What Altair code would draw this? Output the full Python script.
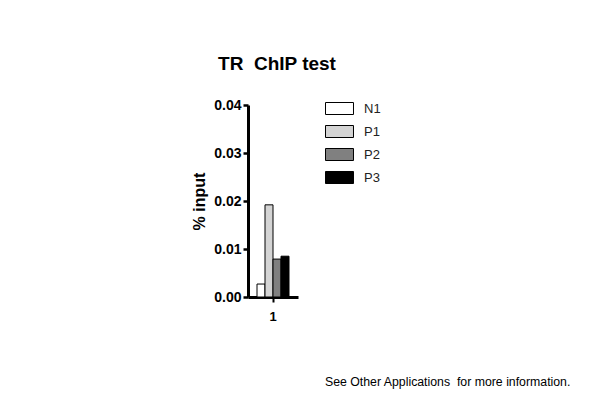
import altair as alt
import pandas as pd

groups = ["1", "1", "1", "1"]
series = ["N1", "P1", "P2", "P3"]
values = [0.0027, 0.0192, 0.0079, 0.0085]
colors = ["#ffffff", "#d4d4d4", "#808080", "#000000"]
y_ticks = [0.0, 0.01, 0.02, 0.03, 0.04]
title_text = "TR \u00a0ChIP test"
y_title = "% input"
footer = ["See Other Applications \u00a0for more information."]

FONT = "Liberation Sans, Arial, Helvetica, sans-serif"

df = pd.DataFrame({"group": groups, "series": series, "value": values})

bars = alt.Chart(df).mark_bar(stroke="black", strokeWidth=1).encode(
    x=alt.X(
        "group:N",
        scale=alt.Scale(paddingInner=0, paddingOuter=0.28125),
        axis=alt.Axis(
            title=None, labelAngle=0, domainWidth=3, domainColor="black",
            tickWidth=2, tickSize=5, tickColor="black",
            labelFont=FONT, labelFontSize=13, labelFontWeight="bold",
            labelColor="black", labelPadding=8,
        ),
    ),
    xOffset=alt.XOffset("series:N", scale=alt.Scale(domain=series, paddingInner=0, paddingOuter=0)),
    y=alt.Y(
        "value:Q",
        scale=alt.Scale(domain=[0, 0.04], nice=False),
        axis=alt.Axis(
            title=y_title, values=y_ticks, format=".2f", grid=False,
            domainWidth=3, domainColor="black", tickWidth=2.5, tickSize=5,
            tickColor="black", labelFont=FONT, labelFontSize=14,
            labelFontWeight="bold", labelColor="black", labelPadding=2,
            titleFont=FONT, titleFontSize=16, titleFontWeight="bold",
            titleColor="black", titlePadding=6,
        ),
    ),
    color=alt.Color(
        "series:N",
        scale=alt.Scale(domain=series, range=colors),
        legend=alt.Legend(
            title=None, orient="none", legendX=85, legendY=-3,
            symbolType="M-2.333,-1H2.333V1H-2.333Z", symbolSize=144,
            symbolStrokeColor="black", symbolStrokeWidth=1,
            labelFont=FONT, labelFontSize=13, labelColor="#222222",
            labelOffset=18, rowPadding=6, padding=0,
        ),
    ),
)

foot = alt.Chart(pd.DataFrame({"t": footer})).mark_text(
    align="left", baseline="middle", fontSize=12.3, font=FONT, color="black"
).encode(text="t:N", x=alt.value(77), y=alt.value(277))

chart = alt.layer(bars, foot).properties(
    width=50,
    height=192,
    title=alt.Title(
        title_text, font=FONT, fontSize=19, fontWeight="bold",
        color="black", anchor="middle", offset=24, dx=4,
    ),
    padding={"left": 240, "top": 97, "right": 294, "bottom": 95},
    autosize=alt.AutoSizeParams(type="none"),
).configure_view(stroke=None)

chart.save("out.html", embed_options={"renderer": "svg", "actions": False})
